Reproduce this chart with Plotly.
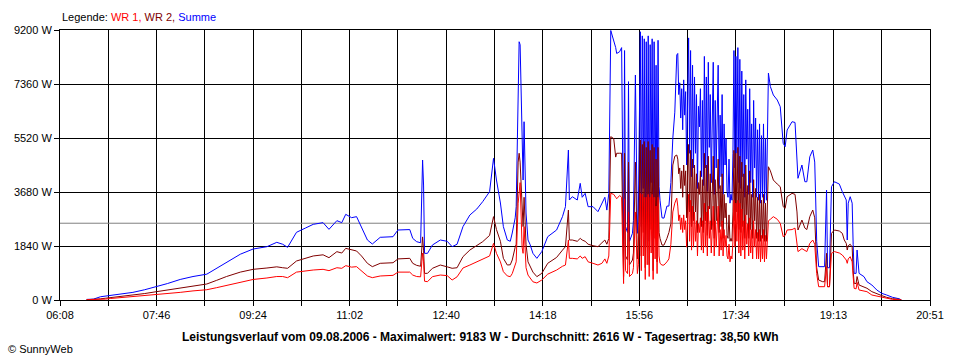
import plotly.graph_objects as go

# ---------------- data ----------------
# segment 1: morning
times_1 = ["06:35","06:42","06:49","06:54","06:59","07:09","07:22","07:34","07:46","07:57",
           "08:10","08:23","08:37","08:47","08:57","09:11","09:24","09:38","09:48","09:54",
           "09:59","10:08","10:17","10:25","10:35","10:41","10:49","10:54","10:58","11:04",
           "11:09","11:14","11:20","11:25","11:33"]
summe_1 = [20,30,110,130,170,200,260,350,454,560,
           700,800,880,1080,1300,1560,1737,1817,1965,1900,
           1795,2306,2450,2578,2635,2408,2703,2635,2919,2805,
           2840,2500,2044,1908,2136]
wr2_1 = [10,15,40,60,80,110,160,220,284,340,
         430,490,545,670,800,950,1045,1090,1130,1100,
         1080,1329,1420,1500,1540,1442,1647,1600,1760,1700,
         1670,1500,1250,1136,1250]
wr1_1 = [10,10,20,30,50,80,110,140,170,210,
         260,310,350,420,500,610,700,750,800,800,
         760,950,1000,1022,1045,1000,1100,1080,1170,1120,
         1136,1000,818,761,818]

# segment 2: midday
times_2 = ["11:46","11:51","12:03","12:06","12:10","12:14","12:16","12:17","12:18","12:21",
           "12:26","12:34","12:41","12:46","12:51","12:57","13:04","13:11","13:17","13:24",
           "13:28","13:31","13:35","13:38","13:42","13:45","13:47","13:50","13:51","13:53",
           "13:54","13:55","13:57","13:58","13:59","14:01","14:03","14:05","14:08","14:12",
           "14:17","14:23","14:32","14:38","14:41","14:44","14:45","14:48","14:53","14:56",
           "14:58","15:01","15:04","15:09","15:14","15:18","15:21","15:23","15:25"]
summe_2 = [2157,2385,2400,2100,1987,1950,4770,3918,1590,1590,
           1874,2044,2000,1817,1900,2500,2896,3100,3350,3691,
           4827,4088,3305,2500,2044,2000,2283,2800,3180,7950,
           8800,8700,4668,4088,6075,2964,2044,1900,1590,1420,
           1650,2157,2385,2840,3180,5110,3407,3520,3407,3975,
           3500,3634,3180,3180,3010,3293,3500,3064,3634]
wr2_2 = [1270,1400,1420,1250,1180,1150,2150,1700,908,908,
         1080,1192,1130,1080,1100,1476,1703,1850,1987,2200,
         2840,2400,2000,1420,1192,1200,1363,1800,1900,4700,
         5000,4700,2900,2500,3500,1900,1300,1150,950,795,
         908,1250,1450,1700,1817,3066,2044,2044,2000,2100,
         2044,2000,1900,1850,1817,1950,2044,1900,2100]
wr1_2 = [840,950,950,850,800,790,1600,1300,640,624,
         795,851,830,681,790,1090,1192,1300,1420,1500,
         1930,1590,1300,965,820,795,900,1200,1300,3300,
         3800,4000,1800,1590,2500,1100,850,750,620,580,
         681,880,1020,1150,1192,2044,1420,1420,1400,1500,
         1420,1476,1300,1250,1192,1250,1400,1250,1500]

# segment 3: first peaks
times_3 = ["15:27","15:30","15:32","15:33","15:36","15:38","15:40","15:41","15:42","15:44",
           "15:45","15:46","15:49","15:50","15:52","15:54","15:55","15:57"]
summe_3 = [9183,8840,8600,8400,8460,8600,1363,8500,2500,2300,
           7440,2000,2272,2700,7666,2272,3000,9140]
wr2_3 = [5565,5500,4870,5000,5000,5000,800,5000,1500,1363,
         4700,1200,1363,1600,4700,1400,1800,5450]
wr1_3 = [3634,3600,3500,3450,3560,3500,560,3450,1000,900,
         3000,800,900,1100,3000,900,1200,3630]

# segment 4: clouds 15:58 - 16:35
times_4 = ["15:58","15:59","16:00","16:01","16:02","16:03","16:04","16:05","16:06","16:07",
           "16:08","16:09","16:10","16:11","16:12","16:13","16:14","16:15","16:16","16:17",
           "16:19","16:21","16:24","16:26","16:28","16:30","16:32","16:34","16:35"]
summe_4 = [2500,9000,3800,8900,1800,8800,3000,9000,2000,8700,
           4000,8900,1700,8800,3500,8000,2200,8850,3860,3400,
           2800,2790,3200,3200,4000,5520,6400,8350,8400]
wr2_4 = [1500,5300,2300,5400,1100,5200,1800,5400,1200,5100,
         2400,5300,1000,5200,2100,4800,1300,5200,2300,2100,
         1870,1870,2100,2300,2600,4600,4900,4940,4800]
wr1_4 = [1000,3600,1500,3500,700,3500,1200,3600,800,3500,
         1600,3600,700,3500,1400,3200,900,3500,1500,1250,
         1190,1190,1300,1400,1900,3000,3300,3470,3200]

# segment 5: clouds 16:36 - 18:05
times_5 = ["16:36","16:37","16:38","16:39","16:40","16:41","16:42","16:43","16:44","16:45",
           "16:46","16:47","16:48","16:49","16:50","16:51","16:52","16:53","16:54","16:55",
           "16:56","16:57","16:58","16:59","17:00","17:01","17:02","17:03","17:04","17:05",
           "17:06","17:07","17:08","17:09","17:10","17:11","17:12","17:13","17:14","17:15",
           "17:16","17:17","17:18","17:19","17:20","17:21","17:22","17:23","17:24","17:25",
           "17:26","17:27","17:28","17:29","17:30","17:31","17:32","17:33","17:34","17:35",
           "17:36","17:37","17:38","17:39","17:40","17:41","17:42","17:43","17:44","17:45",
           "17:46","17:47","17:48","17:49","17:50","17:51","17:52","17:53","17:54","17:55",
           "17:56","17:57","17:58","17:59","18:00","18:01","18:02","18:03","18:04","18:05"]
summe_5 = [7000,7400,6200,7200,5800,7500,6300,7100,4600,7000,
           8930,5000,8500,4200,8000,4500,7600,5000,7000,3800,
           6600,5900,7200,4200,6800,3900,8300,4500,7600,3700,
           8100,5200,7000,4000,6500,8100,3600,6800,4500,6000,
           8000,3800,6300,4200,7000,3600,6000,4600,5500,3700,
           3500,4800,3300,3600,3400,5000,8500,4500,8300,5000,
           8600,4000,8200,3800,7800,4200,7000,3500,7500,4800,
           6500,3600,7200,4000,6000,3500,6800,4500,6200,3500,
           5800,3400,6000,3300,5600,3500,6000,3300,5500,3400]
wr2_5 = [4300,4500,3800,4400,3500,4600,3900,4400,2800,4300,
         5300,3000,5100,2500,4800,2700,4600,3000,4300,2300,
         4000,3600,4400,2500,4100,2300,5000,2700,4600,2200,
         4900,3100,4300,2400,3900,4900,2100,4100,2700,3600,
         4800,2300,3900,2500,4300,2100,3600,2800,3300,2200,
         2100,2900,2000,2100,2000,3000,5100,2700,5000,3000,
         5200,2400,4900,2300,4700,2500,4300,2100,4600,2900,
         3900,2100,4400,2400,3600,2100,4100,2700,3800,2100,
         3500,2000,3600,2000,3400,2100,3600,2000,3300,2000]
wr1_5 = [2700,2900,2400,2800,2300,2900,2400,2700,1800,2700,
         3600,2000,3400,1700,3200,1800,3000,2000,2700,1500,
         2600,2300,2800,1700,2700,1600,3300,1800,3000,1500,
         3200,2100,2700,1600,2600,3200,1500,2700,1800,2400,
         3200,1500,2400,1700,2700,1500,2400,1800,2200,1500,
         1400,1900,1300,1500,1400,2000,3400,1800,3300,2000,
         3400,1600,3300,1500,3100,1700,2700,1400,2900,1900,
         2600,1500,2800,1600,2400,1400,2700,1800,2400,1400,
         2300,1400,2400,1300,2200,1400,2400,1300,2200,1400]

# segment 6: evening
times_6 = ["18:07","18:09","18:12","18:16","18:19","18:22","18:24","18:26","18:31","18:34",
           "18:36","18:37","18:41","18:44","18:46","18:49","18:52","18:54","18:55","18:56",
           "18:58","19:02","19:04","19:06","19:07","19:09","19:11","19:14","19:19","19:22",
           "19:24","19:26","19:27","19:28","19:30","19:32","19:33","19:34","19:36","19:37",
           "19:39","19:44","19:47","19:52","19:57","20:02","20:07","20:13","20:20","20:22"]
summe_6 = [7730,7270,6985,6814,6586,5338,5224,5792,6075,6050,
           4882,4146,4600,4030,4030,4882,5110,4700,3407,2000,
           1136,1136,1136,3748,1100,1100,3860,4030,3950,3690,
           3520,3407,2044,3300,3520,3300,1900,908,908,1703,
           908,795,624,511,341,227,170,91,40,0]
wr2_6 = [4540,4400,4088,3950,3860,3180,3123,3520,3634,3600,
         3000,2385,2725,2450,2400,2840,3066,2800,1950,1100,
         681,624,624,1590,454,454,2272,2385,2350,2272,
         2044,1930,1703,1850,1900,1800,1000,568,560,800,
         511,450,400,284,210,150,91,45,20,0]
wr1_6 = [2700,2750,2840,2750,2613,2157,2200,2385,2400,2450,
         1760,1650,1750,1700,1650,1930,2044,1900,1476,900,
         454,454,454,1136,454,454,1590,1650,1600,1533,
         1450,1363,1250,1400,1476,1300,800,397,380,600,
         341,310,284,170,130,100,57,20,10,0]

times = times_1 + times_2 + times_3 + times_4 + times_5 + times_6
summe = summe_1 + summe_2 + summe_3 + summe_4 + summe_5 + summe_6
wr2 = wr2_1 + wr2_2 + wr2_3 + wr2_4 + wr2_5 + wr2_6
wr1 = wr1_1 + wr1_2 + wr1_3 + wr1_4 + wr1_5 + wr1_6

average_w = 2616
x_labels = ["06:08","07:46","09:24","11:02","12:40","14:18","15:56","17:34","19:13","20:51"]
y_values = [0, 1840, 3680, 5520, 7360, 9200]
y_labels = ["0 W", "1840 W", "3680 W", "5520 W", "7360 W", "9200 W"]
title_text = ("Leistungsverlauf vom 09.08.2006 - Maximalwert: 9183 W - "
              "Durchschnitt: 2616 W - Tagesertrag: 38,50 kWh")

# ---------------- helpers ----------------
def to_min(s):
    h, m = s.split(":")
    return int(h) * 60 + int(m)

xs = [to_min(t) for t in times]
label_pos = [to_min(t) for t in x_labels]
tickvals, ticktext = [], []
for i, p in enumerate(label_pos):
    tickvals.append(p)
    ticktext.append(x_labels[i])
    if i < len(label_pos) - 1:
        tickvals.append((p + label_pos[i + 1]) / 2)
        ticktext.append("")

FONT = "Liberation Sans, Arial, sans-serif"

fig = go.Figure()
fig.add_trace(go.Scatter(x=[label_pos[0], label_pos[-1]], y=[average_w, average_w],
                         mode="lines", line=dict(color="#808080", width=1),
                         hoverinfo="skip", showlegend=False))
fig.add_trace(go.Scatter(x=xs, y=summe, mode="lines", name="Summe",
                         line=dict(color="#0000FF", width=1), showlegend=False))
fig.add_trace(go.Scatter(x=xs, y=wr2, mode="lines", name="WR 2",
                         line=dict(color="#800000", width=1), showlegend=False))
fig.add_trace(go.Scatter(x=xs, y=wr1, mode="lines", name="WR 1",
                         line=dict(color="#FF0000", width=1), showlegend=False))

fig.update_layout(
    width=960, height=360, autosize=False,
    margin=dict(l=60, r=30, t=30, b=60, pad=0),
    paper_bgcolor="white", plot_bgcolor="white",
    font=dict(family=FONT, size=11, color="black"),
    showlegend=False,
)
fig.update_xaxes(range=[label_pos[0], label_pos[-1]], tickmode="array",
                 tickvals=tickvals, ticktext=ticktext,
                 showgrid=True, gridcolor="black", gridwidth=1,
                 showline=True, linecolor="black", linewidth=1, mirror=True,
                 ticks="outside", ticklen=5, tickcolor="black", tickwidth=1,
                 zeroline=False, tickfont=dict(size=11, color="black"))
fig.update_yaxes(range=[0, y_values[-1]], tickmode="array",
                 tickvals=y_values, ticktext=y_labels,
                 showgrid=True, gridcolor="black", gridwidth=1,
                 showline=True, linecolor="black", linewidth=1, mirror=True,
                 ticks="outside", ticklen=5, tickcolor="black", tickwidth=1,
                 zeroline=False, tickfont=dict(size=11, color="black"))

legend_text = ('Legende: <span style="color:#FF0000">WR 1,</span> '
               '<span style="color:#800000">WR 2,</span> '
               '<span style="color:#0000FF">Summe</span>')
fig.add_annotation(text=legend_text, xref="paper", yref="paper", x=0, y=1.048,
                   xanchor="left", yanchor="middle", showarrow=False,
                   font=dict(family=FONT, size=11, color="black"))
fig.add_annotation(text="<b>" + title_text + "</b>", xref="paper", yref="paper",
                   x=0.4828, y=-0.137, xanchor="center", yanchor="middle",
                   showarrow=False, font=dict(family=FONT, size=12, color="black"))
fig.add_annotation(text="© SunnyWeb", xref="paper", yref="paper", x=-0.062, y=-0.1815,
                   xanchor="left", yanchor="middle", showarrow=False,
                   font=dict(family=FONT, size=11, color="black"))

fig.write_html("out.html", config={"displayModeBar": False},
               post_script="document.body.style.margin='0px';document.body.style.padding='0px';")
